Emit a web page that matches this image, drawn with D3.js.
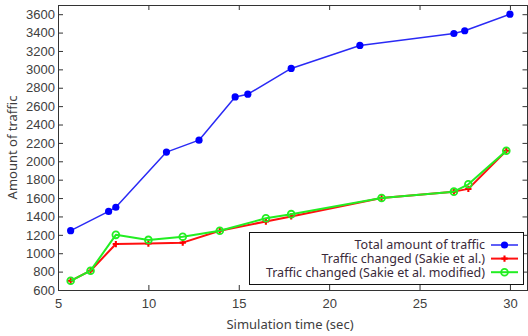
<!DOCTYPE html>
<html>
<head>
<meta charset="utf-8">
<script src="https://cdn.jsdelivr.net/npm/d3@7"></script>
<style>
  body { margin: 0; background: #fff; }
  svg { display: block; font-family: "Noto Sans", "Open Sans", sans-serif; }
  .tick-label { fill: #404040; font-size: 13px; }
</style>
</head>
<body>
<div class="chart"></div>
<script>
// data
const time_total = [5.7, 7.8, 8.2, 11, 12.8, 14.8, 15.5, 17.9, 21.7, 26.9, 27.5, 30];
const total_traffic = [1245, 1455, 1500, 2100, 2230, 2700, 2730, 3010, 3260, 3390, 3420, 3600];

const time_changed = [5.7, 6.8, 8.2, 10, 11.9, 13.95, 16.5, 17.9, 22.9, 26.9, 27.7, 29.8];
const sakie = [700, 810, 1100, 1105, 1115, 1245, 1345, 1400, 1600, 1670, 1700, 2115];
const sakie_modified = [700, 810, 1200, 1145, 1180, 1245, 1380, 1425, 1600, 1670, 1750, 2115];

const x_ticks = [5, 10, 15, 20, 25, 30];
const y_ticks = [600, 800, 1000, 1200, 1400, 1600, 1800, 2000, 2200, 2400, 2600, 2800, 3000, 3200, 3400, 3600];

const legend_labels = ['Total amount of traffic', 'Traffic changed (Sakie et al.)', 'Traffic changed (Sakie et al. modified)'];

const svg_width = 528, svg_height = 336;
const margin = {top: 5, right: 0, bottom: 46, left: 58};

const svg = d3.select('.chart').append('svg')
  .attr('width', svg_width)
  .attr('height', svg_height);

const x_scale = d3.scaleLinear().domain([5, 31]).range([margin.left, svg_width]);
const y_scale = d3.scaleLinear().domain([600, 3700]).range([svg_height - margin.bottom, margin.top]);

const x0 = x_scale(5), x1 = x_scale(31), y0 = y_scale(600), y1 = y_scale(3700);

// ticks (gnuplot style, inward on all four sides)
const axis_col = '#333';
const tl = 5;
const fmt = d3.format('d');
const g_ax = svg.append('g');
g_ax.append('g').attr('transform', `translate(0,${y0})`)
  .call(d3.axisBottom(x_scale).tickValues(x_ticks).tickFormat(fmt).tickSizeInner(-tl).tickSizeOuter(0).tickPadding(9))
  .call(g => g.select('.domain').remove());
g_ax.append('g').attr('transform', `translate(0,${y1})`)
  .call(d3.axisTop(x_scale).tickValues(x_ticks).tickSizeInner(-tl).tickSizeOuter(0).tickFormat(''))
  .call(g => g.select('.domain').remove());
g_ax.append('g').attr('transform', `translate(${x0},0)`)
  .call(d3.axisLeft(y_scale).tickValues(y_ticks).tickFormat(fmt).tickSizeInner(-tl).tickSizeOuter(0).tickPadding(3))
  .call(g => g.select('.domain').remove());
g_ax.append('g').attr('transform', `translate(${x1 - 0.5},0)`)
  .call(d3.axisRight(y_scale).tickValues(y_ticks).tickSizeInner(-tl).tickSizeOuter(0).tickFormat(''))
  .call(g => g.select('.domain').remove());
g_ax.selectAll('.tick line').attr('stroke', axis_col);
g_ax.selectAll('.tick text').attr('class', 'tick-label').attr('font-size', null).attr('font-family', null);
g_ax.selectAll('.tick').filter(d => d === 5).select('line').remove();

// frame
svg.append('rect')
  .attr('x', x0 + 0.5).attr('y', y1 + 0.5)
  .attr('width', x1 - x0 - 1).attr('height', y0 - y1)
  .attr('fill', 'none').attr('stroke', axis_col).attr('stroke-width', 1);

// series
const series = [
  {xs: time_total, ys: total_traffic, color: '#2a2af5', width: 1.5, marker: 'dot'},
  {xs: time_changed, ys: sakie, color: '#ff1010', width: 2, marker: 'cross'},
  {xs: time_changed, ys: sakie_modified, color: '#22ee22', width: 2, marker: 'ring'}
];

const line = d3.line().x(d => x_scale(d[0])).y(d => y_scale(d[1]));

function draw_marker(sel, s, cx, cy) {
  if (s.marker === 'dot') {
    sel.append('circle').attr('cx', cx).attr('cy', cy).attr('r', 3.6).attr('fill', '#0000ff');
  } else if (s.marker === 'cross') {
    sel.append('path')
      .attr('d', d3.symbol().type(d3.symbolCross).size(22)())
      .attr('transform', `translate(${cx},${cy})`)
      .attr('fill', '#ff0000');
  } else {
    sel.append('circle').attr('cx', cx).attr('cy', cy).attr('r', 3.4)
      .attr('fill', 'none').attr('stroke', '#22ee22').attr('stroke-width', 1.8);
  }
}

series.forEach(s => {
  const pts = s.xs.map((x, i) => [x, s.ys[i]]);
  const g = svg.append('g');
  g.append('path').datum(pts)
    .attr('d', line)
    .attr('fill', 'none')
    .attr('stroke', s.color)
    .attr('stroke-width', s.width)
    .attr('stroke-linejoin', 'round');
  pts.forEach(p => draw_marker(g, s, x_scale(p[0]), y_scale(p[1])));
});

// legend
const lg = svg.append('g');
lg.append('rect')
  .attr('x', 249.5).attr('y', 232.5).attr('width', 274).attr('height', 52)
  .attr('fill', '#fff').attr('stroke', '#111').attr('stroke-width', 1);
legend_labels.forEach((lab, i) => {
  const yy = 245 + i * 13.6;
  lg.append('text').attr('x', 485).attr('y', yy).attr('dy', '0.35em')
    .attr('text-anchor', 'end').attr('font-size', 12.5).attr('fill', '#3a2a3a').text(lab);
  lg.append('line').attr('x1', 491).attr('x2', 518).attr('y1', yy).attr('y2', yy)
    .attr('stroke', series[i].color).attr('stroke-width', series[i].width);
  draw_marker(lg, series[i], 504.5, yy);
});

// axis titles
svg.append('text')
  .attr('x', (x0 + 522) / 2).attr('y', 324).attr('dy', '0.35em')
  .attr('text-anchor', 'middle').attr('font-size', 13).attr('fill', '#404040')
  .text('Simulation time (sec)');
svg.append('text')
  .attr('transform', `translate(12,${(y0 + y1) / 2}) rotate(-90)`)
  .attr('dy', '0.35em')
  .attr('text-anchor', 'middle').attr('font-size', 13).attr('fill', '#404040')
  .text('Amount of traffic');
</script>
</body>
</html>
